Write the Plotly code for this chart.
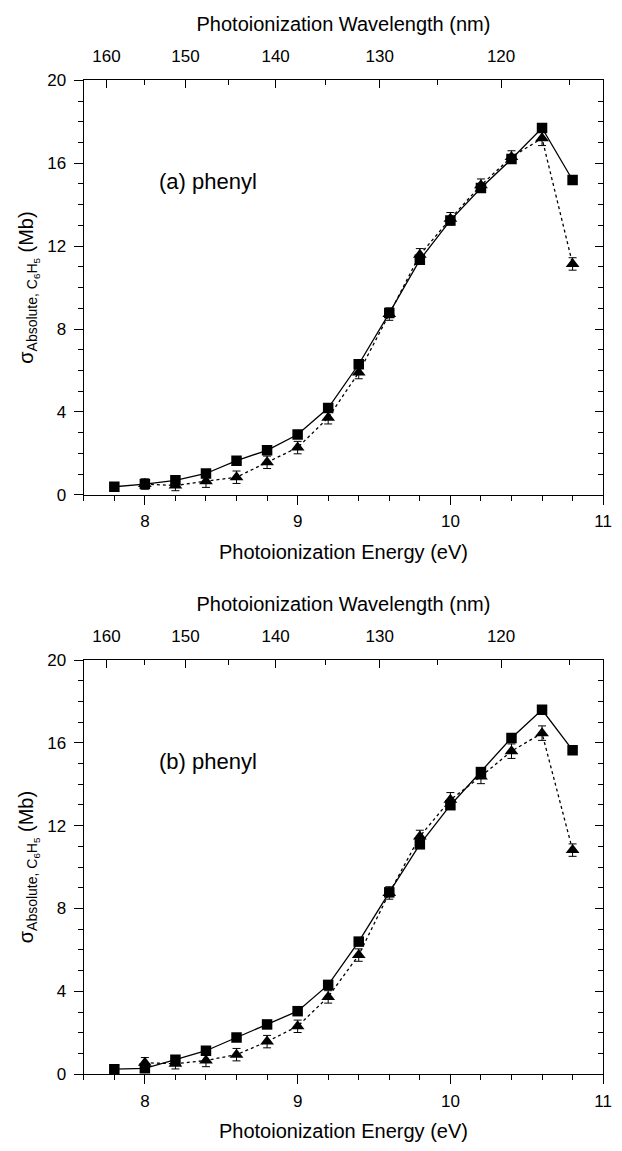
import plotly.graph_objects as go

# ---------------- data ----------------
energy = [7.8, 8.0, 8.2, 8.4, 8.6, 8.8, 9.0, 9.2, 9.4, 9.6, 9.8, 10.0, 10.2, 10.4, 10.6, 10.8]
energy_tri = [8.0, 8.2, 8.4, 8.6, 8.8, 9.0, 9.2, 9.4, 9.6, 9.8, 10.0, 10.2, 10.4, 10.6, 10.8]

a_square = [0.39, 0.52, 0.70, 1.03, 1.65, 2.15, 2.91, 4.19, 6.30, 8.77, 11.34, 13.24, 14.80, 16.20, 17.70, 15.19]
a_tri = [0.52, 0.45, 0.66, 0.85, 1.57, 2.28, 3.72, 5.90, 8.72, 11.58, 13.32, 14.94, 16.30, 17.20, 11.14]
a_tri_err = [0.25, 0.25, 0.3, 0.3, 0.3, 0.3, 0.3, 0.3, 0.3, 0.3, 0.3, 0.3, 0.3, 0.35, 0.3]

b_square = [0.24, 0.28, 0.70, 1.13, 1.77, 2.40, 3.04, 4.31, 6.40, 8.78, 11.10, 12.99, 14.59, 16.24, 17.60, 15.65]
b_tri = [0.55, 0.50, 0.66, 0.94, 1.57, 2.31, 3.73, 5.75, 8.75, 11.48, 13.25, 14.38, 15.60, 16.47, 10.82]
b_tri_err = [0.25, 0.25, 0.3, 0.3, 0.3, 0.3, 0.3, 0.3, 0.3, 0.3, 0.35, 0.35, 0.35, 0.35, 0.3]

energy_ticks = [8, 9, 10, 11]
y_ticks = [0, 4, 8, 12, 16, 20]
wl_major = [160, 150, 140, 130, 120]
wl_minor = [155, 145, 135, 125, 115]
panel_labels = ["(a) phenyl", "(b) phenyl"]

HC = 1239.84  # eV*nm

# ---------------- layout geometry ----------------
W, H = 622, 1151
x_dom = [85 / W, 612 / W]
top_dom = [1 - 494 / H, 1 - 72.5 / H]
bot_dom = [1 - 1083 / H, 1 - 662 / H]

FONT = "Liberation Sans, Arial, sans-serif"
TICKF = dict(family=FONT, size=17, color="black")
TITLEF = dict(family=FONT, size=20, color="black")

fig = go.Figure()

def add_panel(sq, tri, err, xa, ya, xa_top, ya_right):
    fig.add_trace(go.Scatter(
        x=energy, y=sq, mode="lines+markers", xaxis=xa, yaxis=ya,
        line=dict(color="black", width=1.3),
        marker=dict(symbol="square", size=10.5, color="black"),
        showlegend=False))
    fig.add_trace(go.Scatter(
        x=energy_tri, y=tri, mode="lines+markers", xaxis=xa, yaxis=ya,
        line=dict(color="black", width=1.3, dash="dot"),
        marker=dict(symbol="triangle-up", size=12, color="black"),
        error_y=dict(type="data", array=err, visible=True, color="black",
                     thickness=1, width=4),
        showlegend=False))
    # invisible trace to register the top/right overlay axes
    fig.add_trace(go.Scatter(
        x=energy, y=sq, mode="markers", xaxis=xa_top, yaxis=ya_right,
        marker=dict(opacity=0), hoverinfo="skip", showlegend=False))

add_panel(a_square, a_tri, a_tri_err, "x", "y", "x2", "y2")
add_panel(b_square, b_tri, b_tri_err, "x3", "y3", "x4", "y4")

common_line = dict(showline=True, linecolor="black", linewidth=1.3,
                   showgrid=False, zeroline=False, tickcolor="black",
                   tickwidth=1.3)

def bottom_x(anchor):
    return dict(domain=x_dom, anchor=anchor, range=[7.6, 11.0],
                tickmode="array", tickvals=energy_ticks, ticks="outside",
                ticklen=9, tickfont=TICKF, ticklabelstandoff=2,
                minor=dict(dtick=0.2, tick0=7.6, ticks="outside", ticklen=5,
                           tickcolor="black", tickwidth=1.3),
                title=dict(text="Photoionization Energy (eV)", font=TITLEF,
                           standoff=14),
                **common_line)

def top_x(over, anchor):
    return dict(overlaying=over, anchor=anchor, side="top", range=[7.6, 11.0],
                tickmode="array", tickvals=[HC / w for w in wl_major],
                ticktext=[str(w) for w in wl_major], ticks="inside",
                ticklen=8, tickfont=TICKF, ticklabelstandoff=10,
                minor=dict(tickmode="array", tickvals=[HC / w for w in wl_minor],
                           ticks="inside", ticklen=5, tickcolor="black",
                           tickwidth=1.3),
                title=dict(text="Photoionization Wavelength (nm)", font=TITLEF,
                           standoff=10),
                **common_line)

def left_y(dom, anchor):
    return dict(domain=dom, anchor=anchor, range=[0, 20],
                tickmode="array", tickvals=y_ticks, ticks="outside",
                ticklen=9, tickfont=TICKF, ticklabelstandoff=4,
                minor=dict(dtick=1, tick0=0, ticks="outside", ticklen=5,
                           tickcolor="black", tickwidth=1.3),
                title=dict(text="σ<sub>Absolute, C<sub>6</sub>H<sub>5</sub></sub> (Mb)",
                           font=TITLEF, standoff=8),
                **common_line)

def right_y(over, anchor):
    return dict(overlaying=over, anchor=anchor, side="right", range=[0, 20],
                tickmode="array", tickvals=y_ticks, ticks="inside",
                ticklen=8, showticklabels=False,
                minor=dict(dtick=1, tick0=0, ticks="inside", ticklen=5,
                           tickcolor="black", tickwidth=1.3),
                **common_line)

fig.update_layout(
    width=W, height=H,
    margin=dict(l=0, r=0, t=0, b=0),
    paper_bgcolor="white", plot_bgcolor="white",
    font=dict(family=FONT, color="black"),
    showlegend=False,
    xaxis=bottom_x("y"),
    yaxis=left_y(top_dom, "x"),
    xaxis2=top_x("x", "y"),
    yaxis2=right_y("y", "x"),
    xaxis3=bottom_x("y3"),
    yaxis3=left_y(bot_dom, "x3"),
    xaxis4=top_x("x3", "y3"),
    yaxis4=right_y("y3", "x3"),
    annotations=[
        dict(text=panel_labels[0], x=8.08, y=15.1, xref="x", yref="y",
             xanchor="left", yanchor="middle", showarrow=False,
             font=dict(family=FONT, size=22, color="black")),
        dict(text=panel_labels[1], x=8.08, y=15.1, xref="x3", yref="y3",
             xanchor="left", yanchor="middle", showarrow=False,
             font=dict(family=FONT, size=22, color="black")),
    ],
)

fig.write_html("out.html",
               config={"displayModeBar": False},
               post_script="document.body.style.margin='0';"
                           "document.body.style.overflow='hidden';")
